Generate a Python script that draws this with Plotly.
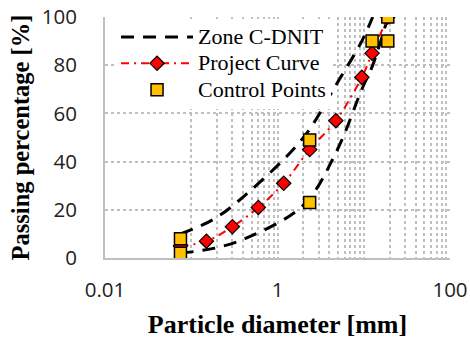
import plotly.graph_objects as go

# Zone C-DNIT envelope
zone_sieves_upper = [0.075, 0.18, 0.42, 2.0, 4.8, 9.5, 12.7]
zone_upper = [10, 16, 26, 50, 72, 90, 100]
zone_sieves_lower = [0.075, 0.18, 0.42, 2.0, 4.8, 9.5, 12.7, 19.1]
zone_lower = [2, 4, 8, 22, 44, 70, 80, 100]

# Project curve
project_sieves = [0.075, 0.15, 0.3, 0.6, 1.18, 2.36, 4.75, 9.5, 12.5, 19]
project_pass = [5, 7, 13, 21, 31, 45, 57, 75, 85, 100]

# Control points
control_sieves = [0.075, 0.075, 2.36, 2.36, 12.5, 19, 19]
control_pass = [2, 8, 23, 49, 90, 90, 100]

x_tick_vals = [0.01, 1, 100]
x_tick_text = ["0.01", "1", "100"]
y_tick_vals = [0, 20, 40, 60, 80, 100]
minor_vals = [m * 10 ** e for e in (-1, 0, 1) for m in range(1, 10)]

zone_line = dict(color="black", width=3, dash="13px,9px", shape="spline")


def leg(t):
    return '<span style="font-size:22px">' + t + '</span>'


fig = go.Figure()
fig.add_trace(go.Scatter(x=zone_sieves_upper, y=zone_upper, mode="lines",
                         name=leg("Zone C-DNIT"), legendgroup="zone", line=zone_line))
fig.add_trace(go.Scatter(x=zone_sieves_lower, y=zone_lower, mode="lines",
                         name=leg("Zone C-DNIT"), legendgroup="zone", showlegend=False,
                         line=zone_line))
fig.add_trace(go.Scatter(x=project_sieves, y=project_pass, mode="lines+markers",
                         name=leg("Project Curve"),
                         line=dict(color="#ff0000", width=2, dash="8px,5px,2px,5px", shape="spline"),
                         marker=dict(symbol="diamond", size=11, color="#ff0000",
                                     line=dict(color="black", width=1.2))))
fig.add_trace(go.Scatter(x=control_sieves, y=control_pass, mode="markers",
                         name=leg("Control Points"),
                         marker=dict(symbol="square", size=12, color="#ffc000",
                                     line=dict(color="black", width=1.5))))

grid_col = "#bfbfbf"
tick_font = dict(family="Open Sans", size=20.5, color="#222")
fig.update_layout(
    width=470, height=341,
    margin=dict(l=105, r=20, t=17, b=83),
    paper_bgcolor="white", plot_bgcolor="white",
    font=dict(family="Liberation Serif", color="black"),
    showlegend=True,
    legend=dict(x=0.032, y=0.993, xanchor="left", yanchor="top",
                bgcolor="white", font=dict(family="Liberation Serif", size=18),
                itemwidth=72, tracegroupgap=0),
    xaxis=dict(type="log", range=[-2, 2], automargin=False,
               tickmode="array", tickvals=x_tick_vals, ticktext=x_tick_text,
               tickfont=tick_font,
               showgrid=True, gridcolor=grid_col, griddash="dot", gridwidth=1.5,
               minor=dict(tickmode="array", tickvals=minor_vals, showgrid=True,
                          gridcolor=grid_col, griddash="dot", gridwidth=1.5),
               showline=True, linecolor="#bfbfbf", linewidth=2,
               ticks="", ticklabelstandoff=12,
               title=dict(text="<b>Particle diameter [mm]</b>",
                          font=dict(family="Liberation Serif", size=26), standoff=13),
               zeroline=False),
    yaxis=dict(range=[0, 100], tickvals=y_tick_vals, automargin=False,
               tickfont=tick_font,
               showgrid=True, gridcolor=grid_col, griddash="dot", gridwidth=1.5,
               showline=True, linecolor="#bfbfbf", linewidth=2,
               ticks="", ticklabelstandoff=22,
               title=dict(text="<b>Passing percentage [%]</b>",
                          font=dict(family="Liberation Serif", size=24.5), standoff=5),
               zeroline=False),
)

fig.write_html("out.html", post_script="document.body.style.margin='0';",
               config={"displayModeBar": False})
